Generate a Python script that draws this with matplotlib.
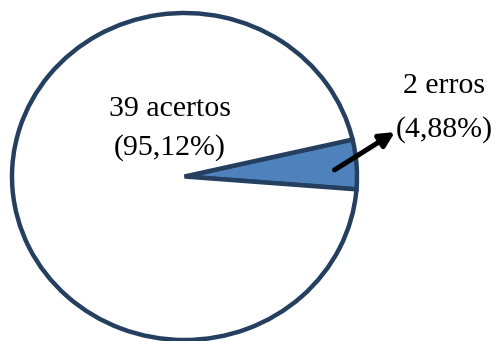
import numpy as np
import matplotlib.pyplot as plt

labels = ["erros", "acertos"]
counts = [2, 39]
percent_labels = ["4,88%", "95,12%"]

colors = ["#4F81BD", "white"]
edge = "#243F60"
start = -4.5

plt.rcParams["font.family"] = ["Liberation Serif", "DejaVu Serif"]

fig = plt.figure(figsize=(4.96, 3.41), dpi=100)
ax = fig.add_axes([12 / 496, 1 / 341, 345 / 496, 327 / 341])

wedges, _ = ax.pie(counts, colors=colors, startangle=start, counterclock=True,
                   wedgeprops=dict(edgecolor=edge, linewidth=3.2))
for w in wedges:
    w.set_clip_on(False)
# slightly oval, the way the original sheet stretched it
ax.set_aspect("auto")
ax.set_xlim(-1, 1)
ax.set_ylim(-1, 1)

fs = 21.5
ax.text(-0.084, 0.370, f"{counts[1]} {labels[1]}", ha="center", va="baseline", fontsize=fs)
ax.text(-0.084, 0.131, f"({percent_labels[1]})", ha="center", va="baseline", fontsize=fs)

ax.text(1.504, 0.511, f"{counts[0]} {labels[0]}", ha="center", va="baseline", fontsize=fs,
        clip_on=False)
ax.text(1.504, 0.242, f"({percent_labels[0]})", ha="center", va="baseline", fontsize=fs,
        clip_on=False)

# arrow from inside the small wedge toward its label
mid = np.deg2rad(start + 360 * counts[0] / sum(counts) / 2)
tail = (0.872 * np.cos(mid), 0.872 * np.sin(mid) - 0.025)
ax.annotate("", xy=(1.22, 0.272), xytext=tail,
            arrowprops=dict(arrowstyle="-|>", color="black", lw=3.6,
                            mutation_scale=22, shrinkA=0, shrinkB=0),
            annotation_clip=False)

fig.savefig("out.png", dpi=100)
